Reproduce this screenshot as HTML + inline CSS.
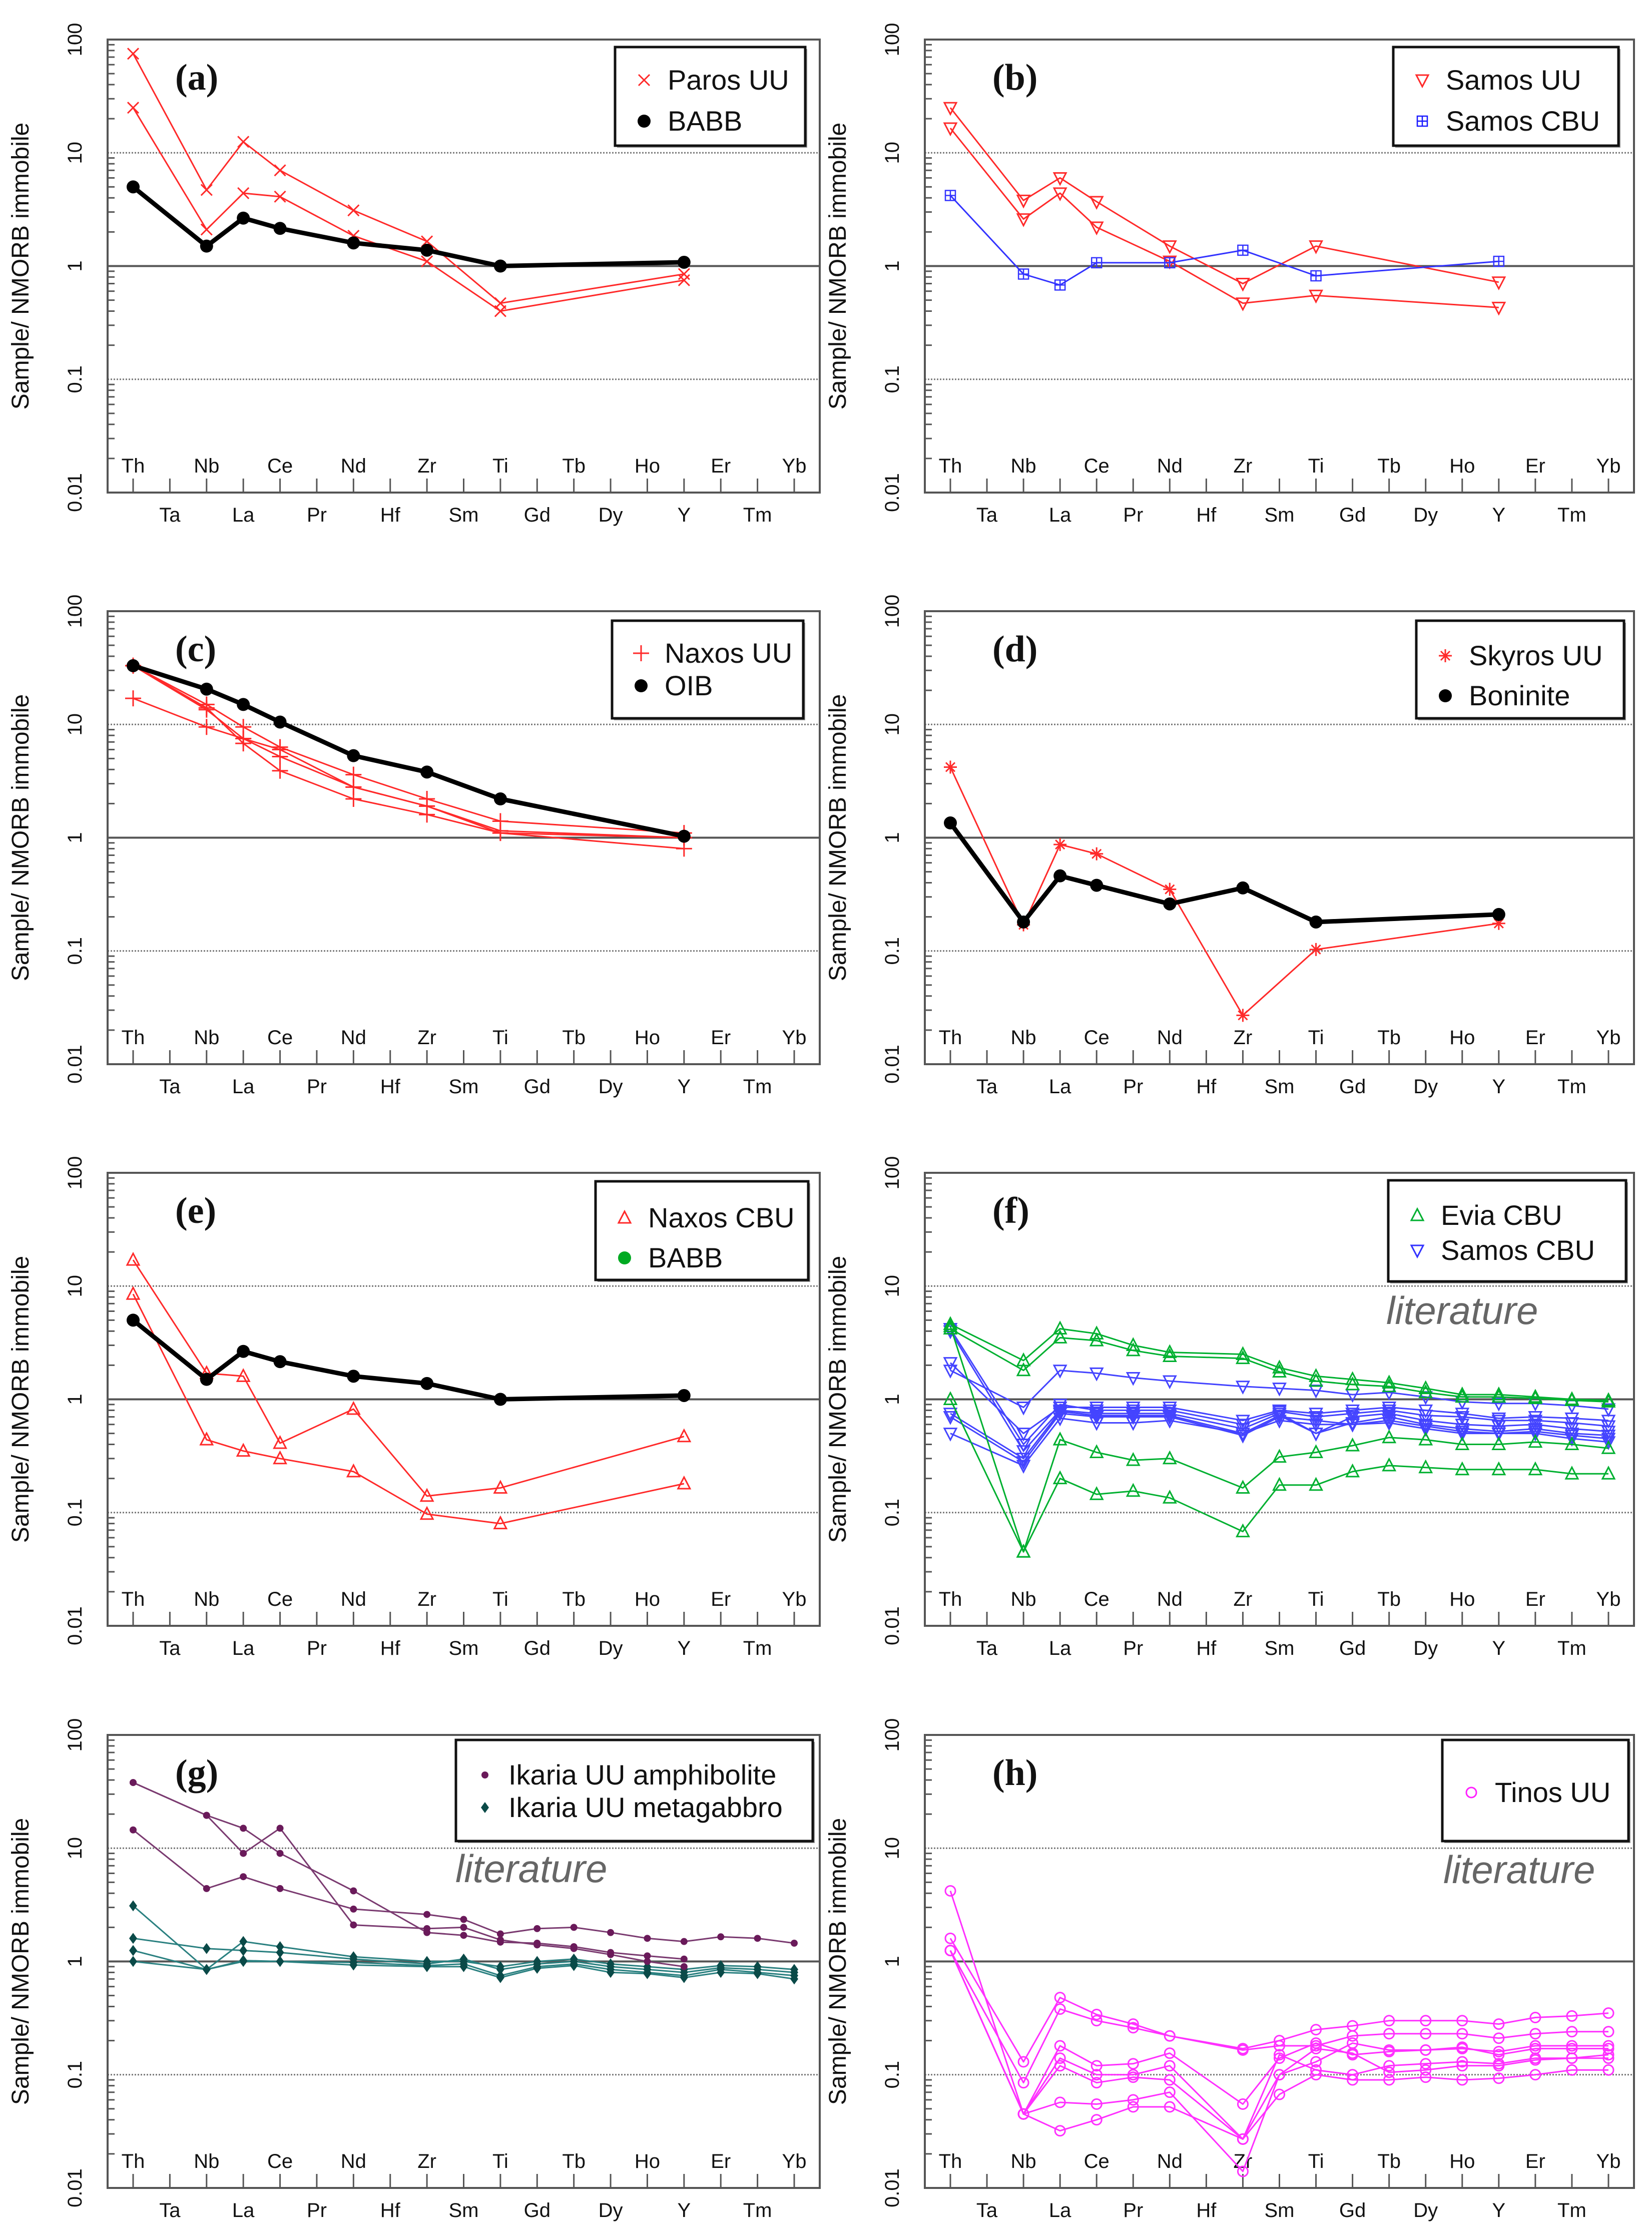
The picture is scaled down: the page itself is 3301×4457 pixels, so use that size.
<!DOCTYPE html>
<html><head><meta charset="utf-8">
<style>
html,body{margin:0;padding:0;background:#fff;}
svg{display:block;}
</style></head>
<body>
<svg id="fig" width="3301" height="4457" viewBox="0 0 3301 4457" xmlns="http://www.w3.org/2000/svg" font-family="'Liberation Sans', sans-serif"></svg>
<script>
// ---------- shared categories ----------
const elements = ["Th","Ta","Nb","La","Ce","Pr","Nd","Hf","Zr","Sm","Ti","Gd","Tb","Dy","Ho","Y","Er","Tm","Yb"];
const yTickValues = [100,10,1,0.1,0.01];
const yTickLabels = ["100","10","1","0.1","0.01"];

// ---------- panel (a) ----------
const aElems = ["Th","Nb","La","Ce","Nd","Zr","Ti","Y"];
const aParos1 = [75,4.7,12.5,7,3.1,1.65,0.47,0.85];
const aParos2 = [25,2.1,4.4,4.1,1.85,1.1,0.40,0.75];
const aBABB = [5,1.5,2.65,2.15,1.6,1.38,1.0,1.08];
// ---------- panel (b) ----------
const bElems = ["Th","Nb","La","Ce","Nd","Zr","Ti","Y"];
const bSamosUU1 = [25,3.8,6,3.7,1.5,0.7,1.5,0.72];
const bSamosUU2 = [16.5,2.6,4.4,2.2,1.1,0.47,0.55,0.43];
const bSamosCBU = [4.2,0.85,0.68,1.07,1.07,1.38,0.82,1.1];
// ---------- panel (c) ----------
const cElems = ["Th","Nb","La","Ce","Nd","Zr","Ti","Y"];
const cNaxos1 = [33,15,9.5,6.3,3.6,2.2,1.4,1.1];
const cNaxos2 = [33,13.5,7.5,5.2,2.8,1.9,1.1,1.0];
const cNaxos3 = [33,14,6.8,3.9,2.2,1.6,1.1,0.8];
const cNaxos4 = [17,9.5,7.5,6.0,2.8,1.9,1.15,1.0];
const cOIB = [33,20.5,15,10.5,5.3,3.8,2.2,1.03];
// ---------- panel (d) ----------
const dElems = ["Th","Nb","La","Ce","Nd","Zr","Ti","Y"];
const dSkyros = [4.2,0.17,0.87,0.72,0.35,0.027,0.103,0.175];
const dBoninite = [1.35,0.18,0.46,0.38,0.26,0.36,0.18,0.21];
// ---------- panel (e) ----------
const eElems = ["Th","Nb","La","Ce","Nd","Zr","Ti","Y"];
const eNaxosCBU1 = [17,1.7,1.6,0.41,0.82,0.14,0.165,0.47];
const eNaxosCBU2 = [8.5,0.44,0.35,0.30,0.23,0.097,0.08,0.18];
const eBABB = [5,1.5,2.65,2.15,1.6,1.38,1.0,1.08];
// ---------- panel (f) ----------
const fElems = ["Th","Nb","La","Ce","Pr","Nd","Zr","Sm","Ti","Gd","Tb","Dy","Ho","Y","Er","Tm","Yb"];
const fEvia1 = [4.6,2.2,4.2,3.8,3.0,2.6,2.5,1.9,1.6,1.5,1.4,1.25,1.1,1.1,1.05,1.0,0.98];
const fEvia2 = [4.2,1.8,3.5,3.3,2.7,2.4,2.3,1.75,1.45,1.35,1.3,1.15,1.05,1.05,1.02,0.98,0.95];
const fEvia3 = [1.0,0.045,0.44,0.34,0.29,0.30,0.165,0.31,0.34,0.39,0.46,0.44,0.40,0.40,0.42,0.40,0.37];
const fEvia4 = [4.4,0.045,0.20,0.145,0.155,0.135,0.068,0.175,0.175,0.23,0.26,0.25,0.24,0.24,0.24,0.22,0.22];
const fSamos1 = [1.8,0.85,1.8,1.7,1.55,1.45,1.3,1.25,1.2,1.1,1.15,1.05,0.95,0.92,0.92,0.88,0.82];
const fSamos2 = [2.1,0.5,0.85,0.85,0.85,0.85,0.65,0.8,0.75,0.8,0.85,0.8,0.75,0.68,0.7,0.68,0.65];
const fSamos3 = [4.2,0.4,0.9,0.8,0.8,0.8,0.6,0.78,0.7,0.75,0.8,0.72,0.7,0.65,0.65,0.62,0.58];
const fSamos4 = [4.0,0.35,0.8,0.75,0.75,0.75,0.55,0.75,0.5,0.7,0.75,0.65,0.6,0.58,0.6,0.55,0.52];
const fSamos5 = [0.75,0.3,0.78,0.72,0.72,0.72,0.5,0.72,0.5,0.62,0.7,0.6,0.55,0.52,0.55,0.5,0.48];
const fSamos6 = [0.7,0.28,0.75,0.7,0.7,0.7,0.48,0.7,0.65,0.6,0.65,0.58,0.52,0.5,0.52,0.48,0.45];
const fSamos7 = [0.5,0.26,0.68,0.62,0.62,0.65,0.5,0.65,0.6,0.6,0.62,0.55,0.5,0.5,0.5,0.45,0.42];
// ---------- panel (g) ----------
const gElems = ["Th","Nb","La","Ce","Nd","Zr","Sm","Ti","Gd","Tb","Dy","Ho","Y","Er","Tm","Yb"];
const gAmph1 = [14.5,4.4,5.6,4.4,2.9,2.6,2.35,1.75,1.95,2.0,1.8,1.6,1.5,1.65,1.6,1.45];
const gAmph2 = [38,19.5,15,9,4.2,1.8,1.7,1.48,1.45,1.35,1.2,1.12,1.05,null,null,null];
const gAmph3 = [38,19.5,9,15,2.1,1.95,2.0,1.55,1.4,1.3,1.15,1.0,0.9,null,null,null];
const gMeta1 = [3.1,0.85,1.5,1.35,1.1,1.0,1.0,0.9,1.0,1.05,0.95,0.9,0.85,0.92,0.9,0.85];
const gMeta2 = [1.6,1.3,1.25,1.2,1.05,0.95,1.05,0.85,0.95,1.0,0.9,0.85,0.8,0.88,0.85,0.8];
const gMeta3 = [1.25,0.85,1.0,1.0,0.98,0.92,0.95,0.75,0.9,0.95,0.85,0.8,0.75,0.85,0.8,0.75];
const gMeta4 = [1.0,0.85,1.02,1.0,0.93,0.9,0.9,0.72,0.87,0.92,0.8,0.78,0.72,0.8,0.78,0.7];
// ---------- panel (h) ----------
const hElems = ["Th","Nb","La","Ce","Pr","Nd","Zr","Sm","Ti","Gd","Tb","Dy","Ho","Y","Er","Tm","Yb"];
const hTinos1 = [1.6,0.13,0.48,0.34,0.28,0.22,0.17,0.2,0.25,0.27,0.3,0.3,0.3,0.28,0.32,0.33,0.35];
const hTinos2 = [1.25,0.085,0.38,0.3,0.26,0.22,0.165,0.18,0.18,0.22,0.23,0.23,0.23,0.21,0.23,0.24,0.24];
const hTinos3 = [4.2,0.045,0.18,0.12,0.125,0.155,0.055,0.14,0.19,0.15,0.16,0.165,0.17,0.16,0.18,0.18,0.18];
const hTinos4 = [1.25,0.045,0.14,0.10,0.10,0.12,0.027,0.10,0.13,0.19,0.165,0.165,0.175,0.15,0.17,0.17,0.17];
const hTinos5 = [1.25,0.045,0.12,0.085,0.095,0.09,0.027,0.15,0.11,0.1,0.12,0.125,0.13,0.125,0.14,0.14,0.15];
const hTinos6 = [1.25,0.045,0.057,0.055,0.06,0.07,0.014,0.1,0.17,0.155,0.105,0.11,0.12,0.12,0.135,0.14,0.14];
const hTinos7 = [1.25,0.045,0.032,0.04,0.052,0.052,0.027,0.067,0.1,0.09,0.09,0.095,0.09,0.093,0.1,0.11,0.11];

const NS = "http://www.w3.org/2000/svg";
const svg = document.getElementById('fig');
function mk(tag, attrs, parent){
  const e = document.createElementNS(NS, tag);
  for (const k in attrs) e.setAttribute(k, attrs[k]);
  (parent||svg).appendChild(e);
  return e;
}

const colL = [215, 1848], colR = [1638, 3265];
const rowT = [79, 1221, 2343, 3466];
const PH = 905;

function makeAxes(L, R, T){
  const W = R - L;
  const step = (W - 102) / 18;
  const x = name => L + 51 + elements.indexOf(name) * step;
  const y = v => T + (2 - Math.log10(v)) / 4 * PH;
  return {x, y, L, R, T, B: T + PH};
}

function drawMarker(g, type, cx, cy, color){
  const s = 11;
  let m;
  if (type === 'x'){
    m = mk('path', {d:`M${cx-s} ${cy-s}L${cx+s} ${cy+s}M${cx-s} ${cy+s}L${cx+s} ${cy-s}`, stroke:color, 'stroke-width':3, fill:'none'}, g);
  } else if (type === 'dot'){
    m = mk('circle', {cx, cy, r:13, fill:color}, g);
  } else if (type === 'smalldot'){
    m = mk('circle', {cx, cy, r:7, fill:color}, g);
  } else if (type === 'diamond'){
    m = mk('path', {d:`M${cx} ${cy-11}L${cx+8} ${cy}L${cx} ${cy+11}L${cx-8} ${cy}Z`, fill:color}, g);
  } else if (type === 'tridown'){
    m = mk('path', {d:`M${cx-12} ${cy-10}L${cx+12} ${cy-10}L${cx} ${cy+13}Z`, stroke:color, 'stroke-width':3, fill:'none'}, g);
  } else if (type === 'triup'){
    m = mk('path', {d:`M${cx-12} ${cy+10}L${cx+12} ${cy+10}L${cx} ${cy-13}Z`, stroke:color, 'stroke-width':3, fill:'none'}, g);
  } else if (type === 'sqplus'){
    m = mk('path', {d:`M${cx-10} ${cy-10}h20v20h-20ZM${cx} ${cy-10}v20M${cx-10} ${cy}h20`, stroke:color, 'stroke-width':2.5, fill:'none'}, g);
  } else if (type === 'plus'){
    m = mk('path', {d:`M${cx-16} ${cy}h32M${cx} ${cy-16}v32`, stroke:color, 'stroke-width':3, fill:'none'}, g);
  } else if (type === 'asterisk'){
    m = mk('path', {d:`M${cx-13} ${cy}h26M${cx} ${cy-13}v26M${cx-9} ${cy-9}l18 18M${cx-9} ${cy+9}l18 -18`, stroke:color, 'stroke-width':3, fill:'none'}, g);
  } else if (type === 'circle'){
    m = mk('circle', {cx, cy, r:10, stroke:color, 'stroke-width':3, fill:'none'}, g);
  }
  
  
}

function drawSeries(ax, name, elems, vals, color, width, marker, markerColor){
  const g = mk('g', {});
  
  
  let d = '';
  let started = false;
  elems.forEach((el, i) => {
    const v = vals[i];
    if (v == null) return;
    d += (started ? 'L' : 'M') + ax.x(el).toFixed(1) + ' ' + ax.y(v).toFixed(1);
    started = true;
  });
  mk('path', {d, stroke:color, 'stroke-width':width, fill:'none', 'stroke-linejoin':'round'}, g);
  elems.forEach((el, i) => {
    const v = vals[i];
    if (v == null) return;
    drawMarker(g, marker, ax.x(el), ax.y(v), markerColor || color);
  });
}

function drawPanel(col, row, label, legend, literature){
  const ax = makeAxes(colL[col], colR[col], rowT[row]);
  const g = mk('g', {});
  
  
  [10, 0.1].forEach(v => mk('line', {x1:ax.L, x2:ax.R, y1:ax.y(v), y2:ax.y(v), stroke:'#777', 'stroke-width':3, 'stroke-dasharray':'3 3'}, g));
  mk('line', {x1:ax.L, x2:ax.R, y1:ax.y(1), y2:ax.y(1), stroke:'#555', 'stroke-width':4}, g);
  const fr = mk('rect', {x:ax.L, y:ax.T, width:ax.R-ax.L, height:PH, fill:'none', stroke:'#555', 'stroke-width':4}, g);
  
  
  for (let dec = -2; dec < 2; dec++){
    for (let k = 2; k < 10; k++){
      const v = k * Math.pow(10, dec);
      mk('line', {x1:ax.L, x2:ax.L+14, y1:ax.y(v), y2:ax.y(v), stroke:'#555', 'stroke-width':3}, g);
    }
  }
  yTickValues.forEach((v, i) => {
    const t = mk('text', {x:0, y:0, transform:`translate(${ax.L-52},${ax.y(v)}) rotate(-90)`, 'font-size':40, 'text-anchor':'middle', fill:'#111'}, g);
    t.textContent = yTickLabels[i];
    
    
  });
  const yt = mk('text', {x:0, y:0, transform:`translate(${ax.L-158},${ax.T+PH/2}) rotate(-90)`, 'font-size':48, 'text-anchor':'middle', fill:'#111'}, g);
  yt.textContent = 'Sample/ NMORB immobile';
  
  
  elements.forEach((el, i) => {
    const xx = ax.x(el);
    mk('line', {x1:xx, x2:xx, y1:ax.B, y2:ax.B-28, stroke:'#555', 'stroke-width':3}, g);
    const top = i % 2 === 0;
    const t = mk('text', {x:xx, y: top ? ax.B-40 : ax.B+58, 'font-size':40, 'text-anchor':'middle', fill:'#111'}, g);
    t.textContent = el;
    
    
  });
  const pl = mk('text', {x:ax.L+135, y:ax.T+100, 'font-size':74, 'font-weight':'bold', 'font-family':"'Liberation Serif', serif", fill:'#111'}, g);
  pl.textContent = '(' + label + ')';
  
  
  if (literature){
    const lt = mk('text', {x:literature[0], y:literature[1], 'font-size':78, 'font-style':'italic', fill:'#666'}, g);
    lt.textContent = 'literature';
    
    
  }
  const lg = mk('g', {}, g);
  
  
  const [lx, ly, lw, lh] = legend.box;
  mk('rect', {x:lx+4, y:ly+4, width:lw, height:lh, fill:'#999'}, lg);
  mk('rect', {x:lx, y:ly, width:lw, height:lh, fill:'#fff', stroke:'#111', 'stroke-width':5}, lg);
  legend.items.forEach((it, i) => {
    const cy = ly + legend.rows[i];
    const e = mk('g', {}, lg);
    
    
    drawMarker(e, it.m, lx + 58, cy, it.c);
    const t = mk('text', {x:lx+105, y:cy+19, 'font-size':56, fill:'#111'}, e);
    t.textContent = it.t;
  });
  return ax;
}

const RED = '#ff2a2a', BLK = '#000';

let ax = drawPanel(0, 0, 'a', {box:[1229,94,380,197], rows:[66,148], items:[{m:'x',c:RED,t:'Paros UU'},{m:'dot',c:BLK,t:'BABB'}]});
drawSeries(ax, 'paros-uu-1', aElems, aParos1, RED, 3, 'x');
drawSeries(ax, 'paros-uu-2', aElems, aParos2, RED, 3, 'x');
drawSeries(ax, 'babb', aElems, aBABB, BLK, 9, 'dot');

ax = drawPanel(1, 0, 'b', {box:[2784,94,450,197], rows:[66,148], items:[{m:'tridown',c:RED,t:'Samos UU'},{m:'sqplus',c:'#1a1aff',t:'Samos CBU'}]});
drawSeries(ax, 'samos-uu-1', bElems, bSamosUU1, RED, 3, 'tridown');
drawSeries(ax, 'samos-uu-2', bElems, bSamosUU2, RED, 3, 'tridown');
drawSeries(ax, 'samos-cbu', bElems, bSamosCBU, '#3333ff', 3, 'sqplus');

ax = drawPanel(0, 1, 'c', {box:[1223,1240,382,195], rows:[65,130], items:[{m:'plus',c:RED,t:'Naxos UU'},{m:'dot',c:BLK,t:'OIB'}]});
drawSeries(ax, 'naxos-uu-1', cElems, cNaxos1, RED, 3, 'plus');
drawSeries(ax, 'naxos-uu-2', cElems, cNaxos2, RED, 3, 'plus');
drawSeries(ax, 'naxos-uu-3', cElems, cNaxos3, RED, 3, 'plus');
drawSeries(ax, 'naxos-uu-4', cElems, cNaxos4, RED, 3, 'plus');
drawSeries(ax, 'oib', cElems, cOIB, BLK, 9, 'dot');

ax = drawPanel(1, 1, 'd', {box:[2830,1240,415,195], rows:[70,150], items:[{m:'asterisk',c:RED,t:'Skyros UU'},{m:'dot',c:BLK,t:'Boninite'}]});
drawSeries(ax, 'skyros-uu', dElems, dSkyros, RED, 3, 'asterisk');
drawSeries(ax, 'boninite', dElems, dBoninite, BLK, 9, 'dot');

ax = drawPanel(0, 2, 'e', {box:[1190,2360,425,197], rows:[73,153], items:[{m:'triup',c:RED,t:'Naxos CBU'},{m:'dot',c:'#00aa22',t:'BABB'}]});
drawSeries(ax, 'naxos-cbu-1', eElems, eNaxosCBU1, RED, 3, 'triup');
drawSeries(ax, 'naxos-cbu-2', eElems, eNaxosCBU2, RED, 3, 'triup');
drawSeries(ax, 'babb', eElems, eBABB, BLK, 9, 'dot');

ax = drawPanel(1, 2, 'f', {box:[2774,2358,475,202], rows:[70,140], items:[{m:'triup',c:'#00b030',t:'Evia CBU'},{m:'tridown',c:'#3333ff',t:'Samos CBU'}]}, [2770,2645]);
[fSamos1,fSamos2,fSamos3,fSamos4,fSamos5,fSamos6,fSamos7].forEach((s,i)=>drawSeries(ax, 'samos-cbu-'+(i+1), fElems, s, '#4444ff', 3, 'tridown'));
[fEvia1,fEvia2,fEvia3,fEvia4].forEach((s,i)=>drawSeries(ax, 'evia-cbu-'+(i+1), fElems, s, '#00b030', 3, 'triup'));

ax = drawPanel(0, 3, 'g', {box:[911,3476,713,202], rows:[70,135], items:[{m:'smalldot',c:'#6a1a5a',t:'Ikaria UU amphibolite'},{m:'diamond',c:'#0a4a48',t:'Ikaria UU metagabbro'}]}, [910,3760]);
[gMeta1,gMeta2,gMeta3,gMeta4].forEach((s,i)=>drawSeries(ax, 'ikaria-metagabbro-'+(i+1), gElems, s, '#2a8080', 3, 'diamond', '#0a4a48'));
[gAmph1,gAmph2,gAmph3].forEach((s,i)=>drawSeries(ax, 'ikaria-amphibolite-'+(i+1), gElems, s, '#7a3a70', 3, 'smalldot', '#6a1a5a'));

ax = drawPanel(1, 3, 'h', {box:[2882,3476,372,202], rows:[105,105], items:[{m:'circle',c:'#ff20ff',t:'Tinos UU'}]}, [2884,3762]);
[hTinos1,hTinos2,hTinos3,hTinos4,hTinos5,hTinos6,hTinos7].forEach((s,i)=>drawSeries(ax, 'tinos-uu-'+(i+1), hElems, s, '#ff30ff', 3, 'circle'));
</script>
</body></html>
